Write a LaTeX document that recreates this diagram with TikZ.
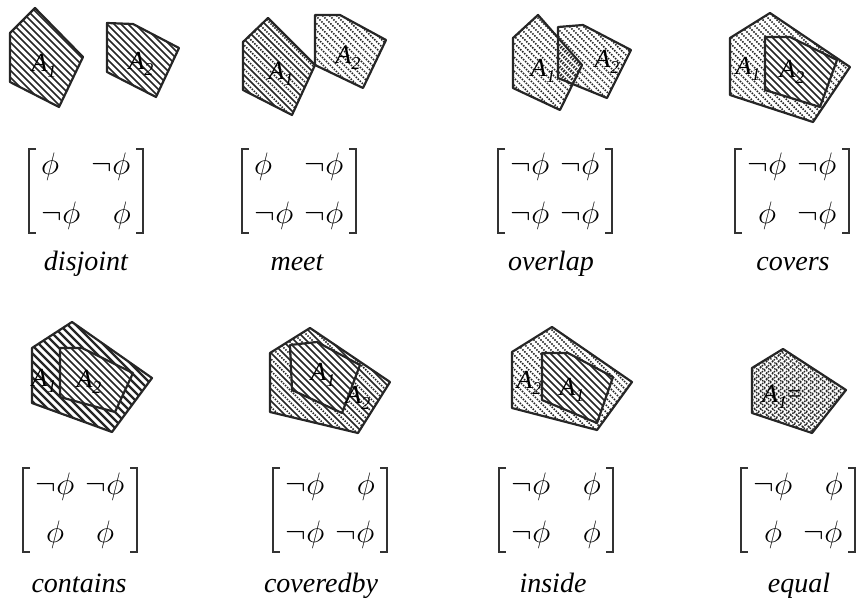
\RequirePackage{fix-cm}
\documentclass[tikz,border=0pt]{standalone}
\usepackage{fontspec}
\setmainfont{Liberation Serif}
\begin{document}
\tikzset{
  outline/.style={line width=2.2pt, line join=round, draw=black!85},
  hsolid/.style={line width=1.5pt, draw=black!85},
  hdot/.style={line width=1.6pt, draw=black!85, dash pattern=on 1.5pt off 1.3pt},
  shapelabel/.style={font=\fontsize{26}{28}\selectfont, inner sep=0pt},
  relname/.style={font=\fontsize{28}{32}\selectfont\itshape, anchor=base, inner sep=0pt},
  cell/.style={font=\fontsize{31}{34}\selectfont, inner sep=0pt},
  bracket/.style={line width=1.3pt, draw=black!80}
}
% #1 polygon path, #2 hatch style, #3 cx, #4 cy, #5 step, #6 slope sign
\newcommand{\hatchpoly}[6]{%
  \begin{scope}
    \clip #1 -- cycle;
    \foreach \k in {0,...,40}
      \draw[#2] ({#3+\k*#5-230},{#4-90*#6}) -- ({#3+\k*#5-50},{#4+90*#6});
  \end{scope}}
\newcommand{\outlinepoly}[1]{\draw[outline] #1 -- cycle;}
\newcommand{\Aname}[1]{\textit{A}\raisebox{-0.22em}{\fontsize{18}{19}\selectfont\itshape #1}}
% one cell: #1 name, #2 code (N = neg phi, L/C/R = phi aligned), #3 column centre x, #4 baseline y
\newcommand{\cellnode}[4]{%
  \if N#2\node[cell,anchor=base] (#1) at (#3,#4) {$\neg\phi$};\fi
  \if C#2\node[cell,anchor=base] (#1) at (#3,#4) {$\phi$};\fi
  \if L#2\node[cell,anchor=base west] (#1) at ({#3-20},#4) {$\phi$};\fi
  \if R#2\node[cell,anchor=base east] (#1) at ({#3+20},#4) {$\phi$};\fi}
% matrix: #1 name, #2 cx, #3 cy, #4..#7 codes a11 a12 a21 a22
\newcommand{\relmatrix}[7]{%
  \coordinate (#1) at (#2,#3);
  \draw[bracket] ({#2-50},{#3-42}) -- ({#2-57},{#3-42}) -- ({#2-57},{#3+42}) -- ({#2-50},{#3+42});
  \draw[bracket] ({#2+50},{#3-42}) -- ({#2+57},{#3-42}) -- ({#2+57},{#3+42}) -- ({#2+50},{#3+42});
  \cellnode{#1-11}{#4}{#2-25}{#3-16}
  \cellnode{#1-12}{#5}{#2+25}{#3-16}
  \cellnode{#1-21}{#6}{#2-25}{#3+32}
  \cellnode{#1-22}{#7}{#2+25}{#3+32}}
\begin{tikzpicture}[x=1pt,y=-1pt]
\useasboundingbox (0,0) rectangle (857,599);

% ---------------- disjoint
\def\pa{(35,8) -- (10,33) -- (10,82) -- (59,107) -- (83,57)}
\def\pb{(107,23) -- (133,24) -- (179,48) -- (156,97) -- (107,72)}
\hatchpoly{\pa}{hsolid}{46}{57}{7}{1}
\outlinepoly{\pa}
\hatchpoly{\pb}{hsolid}{143}{60}{7}{1}
\outlinepoly{\pb}
\node[shapelabel] (d1) at (44,66) {\Aname{1}};
\node[shapelabel] (d2) at (141,64) {\Aname{2}};

% ---------------- meet
\def\pa{(268,18) -- (243,42) -- (243,90) -- (292,115) -- (315,65)}
\def\pb{(315,15) -- (340,15) -- (386,40) -- (363,88) -- (315,65)}
\hatchpoly{\pa}{hsolid}{279}{66}{12}{1}
\hatchpoly{\pa}{hdot}{285}{66}{12}{1}
\outlinepoly{\pa}
\hatchpoly{\pb}{hdot}{350}{50}{7}{1}
\outlinepoly{\pb}
\node[shapelabel] (m1) at (281,74) {\Aname{1}};
\node[shapelabel] (m2) at (348,58) {\Aname{2}};

% ---------------- overlap
\def\pa{(538,15) -- (513,38) -- (513,88) -- (560,110) -- (582,65)}
\def\pb{(558,27) -- (583,25) -- (631,50) -- (607,98) -- (558,78)}
\hatchpoly{\pa}{hdot}{547}{62}{7}{1}
\hatchpoly{\pb}{hdot}{597}{61}{7}{1}
\outlinepoly{\pa}
\outlinepoly{\pb}
\node[shapelabel] (o1) at (543,71) {\Aname{1}};
\node[shapelabel] (o2) at (607,62) {\Aname{2}};

% ---------------- covers
\def\pa{(770,13) -- (730,38) -- (730,95) -- (813,122) -- (850,67)}
\def\pb{(765,37) -- (790,37) -- (837,60) -- (820,107) -- (765,90)}
\hatchpoly{\pa}{hdot}{790}{68}{7}{1}
\outlinepoly{\pa}
\fill[white] \pb -- cycle;
\hatchpoly{\pb}{hsolid}{800}{72}{7}{1}
\outlinepoly{\pb}
\node[shapelabel] (c1) at (748,69) {\Aname{1}};
\node[shapelabel] (c2) at (792,72) {\Aname{2}};

% ---------------- contains
\def\pa{(72,322) -- (32,348) -- (32,403) -- (112,432) -- (152,378)}
\def\pb{(60,348) -- (82,348) -- (133,373) -- (115,412) -- (60,397)}
\hatchpoly{\pa}{hsolid, line width=2.4pt}{92}{377}{8}{1}
\outlinepoly{\pa}
\fill[white] \pb -- cycle;
\hatchpoly{\pb}{hsolid}{96}{380}{7}{1}
\outlinepoly{\pb}
\node[shapelabel] (t1) at (44,381) {\Aname{1}};
\node[shapelabel] (t2) at (89,382) {\Aname{2}};

% ---------------- coveredby
\def\pa{(310,328) -- (270,353) -- (270,412) -- (358,433) -- (390,382)}
\def\pb{(290,345) -- (317,342) -- (360,365) -- (342,413) -- (292,390)}
\hatchpoly{\pa}{hsolid}{330}{380}{12}{1}
\hatchpoly{\pa}{hdot}{336}{380}{12}{1}
\outlinepoly{\pa}
\fill[white] \pb -- cycle;
\hatchpoly{\pb}{hsolid}{325}{378}{7}{1}
\outlinepoly{\pb}
\node[shapelabel] (b1) at (323,375) {\Aname{1}};
\node[shapelabel] (b2) at (358,398) {\Aname{2}};

% ---------------- inside
\def\pa{(552,327) -- (512,352) -- (512,408) -- (597,430) -- (632,382)}
\def\pb{(542,353) -- (568,353) -- (613,377) -- (597,423) -- (542,400)}
\hatchpoly{\pa}{hdot}{572}{378}{7}{1}
\outlinepoly{\pa}
\fill[white] \pb -- cycle;
\hatchpoly{\pb}{hsolid}{578}{388}{7}{1}
\outlinepoly{\pb}
\node[shapelabel] (i2) at (529,383) {\Aname{2}};
\node[shapelabel] (i1) at (572,390) {\Aname{1}};

% ---------------- equal
\def\pa{(783,349) -- (752,368) -- (752,413) -- (812,433) -- (846,390)}
\hatchpoly{\pa}{hdot, line width=1.4pt}{799}{391}{6}{1}
\hatchpoly{\pa}{hdot, line width=1.4pt}{799}{391}{6}{-1}
\outlinepoly{\pa}
\node[shapelabel] (e1) at (782,397) {\Aname{1}=};

% ---------------- matrices
\relmatrix{md}{86}{191}{L}{N}{N}{R}
\relmatrix{mm}{299}{191}{L}{N}{N}{N}
\relmatrix{mo}{555}{191}{N}{N}{N}{N}
\relmatrix{mc}{792}{191}{N}{N}{C}{N}
\relmatrix{mt}{80}{510}{N}{N}{C}{C}
\relmatrix{mb}{330}{510}{N}{R}{N}{N}
\relmatrix{mi}{556}{510}{N}{R}{N}{R}
\relmatrix{me}{798}{510}{N}{R}{C}{N}

% ---------------- relation names
\node[relname] (ld) at (86,270) {disjoint};
\node[relname] (lm) at (297,270) {meet};
\node[relname] (lo) at (551,270) {overlap};
\node[relname] (lc) at (793,270) {covers};
\node[relname] (lt) at (79,592) {contains};
\node[relname] (lb) at (321,592) {coveredby};
\node[relname] (li) at (553,592) {inside};
\node[relname] (le) at (799,592) {equal};
\end{tikzpicture}
\end{document}
